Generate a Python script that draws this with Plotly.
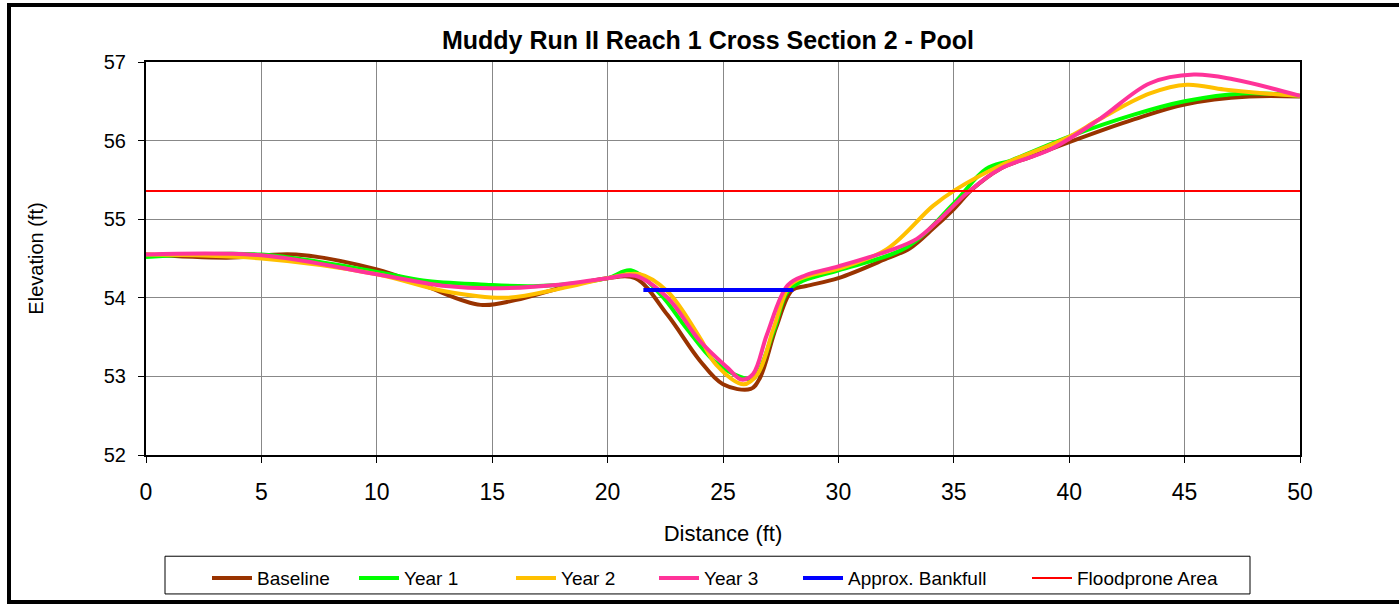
import plotly.graph_objects as go

title_text = "Muddy Run II Reach 1 Cross Section 2 - Pool"

base_x = [0, 3.5, 6.5, 10, 12, 14.5, 16, 18.4, 20, 21.2, 22.6, 24.0, 25.0, 26.2, 26.6, 27.3, 28.0, 28.6, 30.0, 32.1, 33.1, 34.1, 35.0, 35.8, 37.0, 38.4, 40.0, 42.8, 45.0, 47.8, 50]
base_y = [54.55, 54.51, 54.55, 54.36, 54.16, 53.91, 53.97, 54.16, 54.25, 54.25, 53.78, 53.20, 52.90, 52.84, 52.98, 53.62, 54.10, 54.15, 54.25, 54.50, 54.63, 54.88, 55.13, 55.38, 55.64, 55.80, 55.98, 56.27, 56.46, 56.56, 56.56]

y1_x = [0, 5, 10, 12, 14.5, 17, 20, 21, 22.3, 23.4, 24.6, 25.7, 26.3, 27.2, 27.8, 28.5, 30, 33, 35, 36.4, 37.5, 40, 42.8, 45, 47.5, 50]
y1_y = [54.52, 54.55, 54.33, 54.22, 54.17, 54.15, 54.25, 54.35, 54.04, 53.62, 53.2, 53.0, 52.97, 53.58, 54.08, 54.22, 54.35, 54.65, 55.2, 55.64, 55.75, 56.05, 56.33, 56.5, 56.6, 56.57]

y2_x = [0, 5, 10, 13, 15.6, 18, 20, 21.4, 22.6, 24.0, 24.7, 25.9, 26.5, 27.2, 27.9, 28.6, 30, 32.1, 34.1, 35.1, 37, 40, 41.3, 43.5, 45.1, 46.7, 48.5, 50]
y2_y = [54.55, 54.5, 54.3, 54.08, 54.0, 54.12, 54.25, 54.3, 54.08, 53.49, 53.15, 52.9, 53.03, 53.62, 54.16, 54.27, 54.37, 54.62, 55.17, 55.38, 55.68, 56.05, 56.27, 56.6, 56.71, 56.65, 56.6, 56.57]

y3_x = [0, 5, 10, 13, 15, 18, 20, 21.2, 22.6, 24.0, 25.2, 25.8, 26.3, 26.9, 27.8, 28.6, 30, 32.2, 33.4, 34.4, 35.6, 37, 39.2, 41.3, 43.5, 45.4, 47.1, 50]
y3_y = [54.55, 54.54, 54.3, 54.15, 54.12, 54.17, 54.25, 54.28, 54.0, 53.45, 53.11, 52.96, 53.03, 53.53, 54.16, 54.29, 54.40, 54.6, 54.75, 55.0, 55.34, 55.64, 55.89, 56.27, 56.73, 56.84, 56.78, 56.57]

bank_x = [21.55, 28.05]
bank_y = [54.1, 54.1]

flood_x = [0, 50]
flood_y = [55.36, 55.36]

x_ticks = [0, 5, 10, 15, 20, 25, 30, 35, 40, 45, 50]
y_ticks = [52, 53, 54, 55, 56, 57]

FONT = "Liberation Sans, Arial, sans-serif"

W, H = 1399, 609
L, R, T, B = 146, 1300, 62, 458

def px(xp):
    return (xp - L) / (R - L)

def py(yp):
    return (B - yp) / (B - T)

fig = go.Figure()
series = [
    ("Baseline", base_x, base_y, "#993300", 4, "spline", 257),
    ("Year 1", y1_x, y1_y, "#00FF00", 4, "spline", 404),
    ("Year 2", y2_x, y2_y, "#FFC000", 4, "spline", 561),
    ("Year 3", y3_x, y3_y, "#FF3399", 4, "spline", 704),
    ("Approx. Bankfull", bank_x, bank_y, "#0000FF", 4, "linear", 848),
    ("Floodprone Area", flood_x, flood_y, "#FF0000", 2, "linear", 1077),
]
legend_layout = {}
for i, (name, xs, ys, col, w, shape, text_px) in enumerate(series):
    lg = "legend" if i == 0 else f"legend{i + 1}"
    fig.add_trace(go.Scatter(x=xs, y=ys, mode="lines", name=name, legend=lg,
                             line=dict(color=col, width=w, shape=shape, smoothing=1.0)))
    legend_layout[lg] = dict(orientation="h", x=px(text_px - 50), xanchor="left",
                             y=py(563), yanchor="top", borderwidth=0,
                             bgcolor="rgba(0,0,0,0)", font=dict(size=19, family=FONT),
                             itemwidth=40)

fig.update_layout(
    width=W, height=H,
    margin=dict(l=L, r=W - R, t=T, b=H - B),
    paper_bgcolor="white", plot_bgcolor="white",
    font=dict(family=FONT, color="black"),
    title=dict(text="<b>" + title_text + "</b>", x=708 / W, xanchor="center",
               y=1 - 40 / H, yanchor="middle", font=dict(size=25, family=FONT)),
    showlegend=True,
    shapes=[
        dict(type="rect", xref="paper", yref="paper",
             x0=px(9), x1=px(1405), y0=py(606), y1=py(4.5),
             line=dict(color="black", width=4), layer="below"),
        dict(type="rect", xref="paper", yref="paper",
             x0=px(165), x1=px(1250), y0=py(598), y1=py(560),
             line=dict(color="black", width=1), layer="below"),
    ],
    **legend_layout,
)
fig.update_xaxes(range=[0, 50], tickvals=x_ticks, showgrid=True, gridcolor="#888888", gridwidth=1,
                 showline=True, linecolor="black", linewidth=2, mirror=True,
                 ticks="outside", ticklen=6, tickcolor="black", zeroline=False,
                 tickfont=dict(size=23, family=FONT), ticklabelstandoff=9,
                 title=dict(text="Distance (ft)", font=dict(size=22, family=FONT), standoff=22))
fig.update_yaxes(range=[52, 57], tickvals=y_ticks, showgrid=True, gridcolor="#888888", gridwidth=1,
                 showline=True, linecolor="black", linewidth=2, mirror=True,
                 ticks="outside", ticklen=6, tickcolor="black", zeroline=False,
                 tickfont=dict(size=20, family=FONT), ticklabelstandoff=8,
                 title=dict(text="Elevation (ft)", font=dict(size=20, family=FONT), standoff=55))

fig.write_html("out.html", config={"displayModeBar": False},
               post_script="document.body.style.margin='0';document.body.style.overflow='hidden';")
